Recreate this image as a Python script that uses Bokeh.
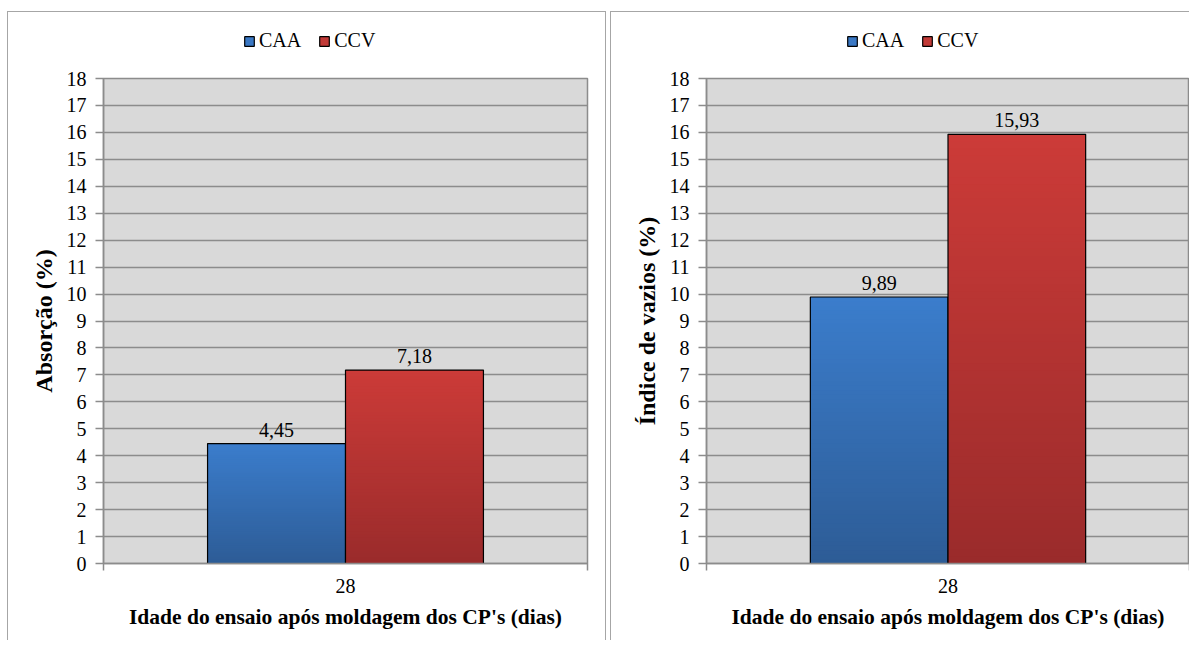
from bokeh.plotting import figure
from bokeh.models import (Range1d, FixedTicker, Legend, LegendItem, ColumnDataSource)
from bokeh.layouts import row, column
from bokeh.embed import file_html
from bokeh.resources import INLINE
from bokeh.core.properties import value

categories = ["28"]
series_names = ["CAA", "CCV"]
absorcao_caa = [4.45]
absorcao_ccv = [7.18]
vazios_caa = [9.89]
vazios_ccv = [15.93]
y_ticks = list(range(0, 19))

top_colors = [(0x3b, 0x7d, 0xcc), (0xcc, 0x3b, 0x38)]
bot_colors = [(0x2d, 0x5c, 0x96), (0x9a, 0x2b, 0x2b)]
solid_colors = ["#3a78c4", "#c23a37"]

FONT = "Liberation Serif"
BAR_W = 0.285
N_SLICES = 60
LEG_H = 50


def hexc(c):
    return "#%02x%02x%02x" % tuple(int(round(v)) for v in c)


def make_legend_fig(width):
    lf = figure(width=width, height=LEG_H, output_backend="svg", toolbar_location=None,
                x_range=Range1d(0, 1), y_range=Range1d(0, 1),
                min_border=0, x_axis_type=None, y_axis_type=None)
    lf.outline_line_color = None
    lf.background_fill_color = "white"
    items = []
    for si, name in enumerate(series_names):
        r = lf.vbar(x=[0.5], bottom=[0.4], top=[0.6], width=0.1, fill_color=solid_colors[si],
                    line_color="black", line_width=1.2, visible=False)
        items.append(LegendItem(label=name, renderers=[r]))
    leg = Legend(items=items, orientation="horizontal", location=(140, 10),
                 glyph_width=12, glyph_height=12, label_text_font=FONT,
                 label_text_font_size="20px", label_text_color="black",
                 label_height=21, spacing=17, label_standoff=4, padding=0, margin=0,
                 background_fill_alpha=0, border_line_color=None, click_policy="none")
    lf.add_layout(leg)
    return lf


def make_panel(vals_a, vals_b, ylabel, width):
    p = figure(width=width, height=628 - LEG_H, output_backend="svg", toolbar_location=None,
               x_range=Range1d(0, len(categories)), y_range=Range1d(0, 18),
               min_border_left=95, min_border_right=width - 95 - 484,
               min_border_top=66 - LEG_H, min_border_bottom=77)
    p.background_fill_color = "#d9d9d9"
    p.border_fill_color = "white"
    p.outline_line_color = "#8c8c8c"
    p.outline_line_width = 1.5

    p.xgrid.grid_line_color = None
    p.ygrid.grid_line_color = "#8c8c8c"
    p.ygrid.grid_line_width = 1.5
    p.ygrid.ticker = FixedTicker(ticks=y_ticks)

    p.yaxis.ticker = FixedTicker(ticks=y_ticks)
    p.yaxis.axis_line_color = "#8c8c8c"
    p.yaxis.axis_line_width = 1.5
    p.yaxis.major_tick_line_color = "#8c8c8c"
    p.yaxis.major_tick_line_width = 1.5
    p.yaxis.major_tick_out = 8
    p.yaxis.major_tick_in = 0
    p.yaxis.minor_tick_line_color = None
    p.yaxis.major_label_text_font = FONT
    p.yaxis.major_label_text_font_size = "20px"
    p.yaxis.major_label_text_color = "black"
    p.yaxis.major_label_standoff = 9
    p.yaxis.axis_label = ylabel
    p.yaxis.axis_label_text_font = FONT
    p.yaxis.axis_label_text_font_size = "24px"
    p.yaxis.axis_label_text_font_style = "bold"
    p.yaxis.axis_label_text_color = "black"
    p.yaxis.axis_label_standoff = 7

    centers = [i + 0.5 for i in range(len(categories))]
    edges = list(range(len(categories) + 1))
    p.xaxis.ticker = FixedTicker(ticks=centers, minor_ticks=edges)
    p.xaxis.major_label_overrides = {c: lab for c, lab in zip(centers, categories)}
    p.xaxis.major_tick_line_color = None
    p.xaxis.major_tick_out = 0
    p.xaxis.major_tick_in = 0
    p.xaxis.minor_tick_line_color = "#8c8c8c"
    p.xaxis.minor_tick_line_width = 1.5
    p.xaxis.minor_tick_out = 7
    p.xaxis.minor_tick_in = 0
    p.xaxis.axis_line_color = "#8c8c8c"
    p.xaxis.axis_line_width = 1.5
    p.xaxis.major_label_text_font = FONT
    p.xaxis.major_label_text_font_size = "20px"
    p.xaxis.major_label_text_color = "black"
    p.xaxis.major_label_standoff = 8
    p.xaxis.axis_label = "Idade do ensaio após moldagem dos CP's (dias)"
    p.xaxis.axis_label_text_font = FONT
    p.xaxis.axis_label_text_font_size = "21.5px"
    p.xaxis.axis_label_text_font_style = "bold"
    p.xaxis.axis_label_text_color = "black"
    p.xaxis.axis_label_standoff = 9

    for si, (vals, offset) in enumerate([(vals_a, -BAR_W / 2), (vals_b, BAR_W / 2)]):
        xs = [c + offset for c in centers]
        sx, st, sc = [], [], []
        for x, v in zip(xs, vals):
            # overlapping slices from tallest (top colour) to shortest (bottom colour)
            for k in range(N_SLICES - 1, -1, -1):
                t = v * (k + 1) / N_SLICES
                g = (k + 0.5) / N_SLICES
                col = [bot_colors[si][j] + (top_colors[si][j] - bot_colors[si][j]) * g for j in range(3)]
                sx.append(x); st.append(t); sc.append(hexc(col))
        p.vbar(x=sx, bottom=0, top=st, width=BAR_W, fill_color=sc, line_color=None)
        p.vbar(x=xs, top=vals, width=BAR_W, fill_color=None, line_color="black", line_width=1.2)
        labels = [("%.2f" % v).replace(".", ",") for v in vals]
        src = ColumnDataSource(dict(x=xs, y=vals, t=labels))
        p.text(x="x", y="y", text="t", source=src, text_align="center", text_baseline="bottom",
               y_offset=-7, text_font=value(FONT), text_font_size="20px", text_color="black")
    return p


W1, W2 = 597, 578
c1 = column(make_legend_fig(W1), make_panel(absorcao_caa, absorcao_ccv, "Absorção (%)", W1),
            spacing=0)
c1.styles = {"border": "1.5px solid #a6a6a6", "border-bottom": "none",
             "margin-top": "11px", "margin-left": "7px"}
c2 = column(make_legend_fig(W2), make_panel(vazios_caa, vazios_ccv, "Índice de vazios (%)", W2),
            spacing=0)
c2.styles = {"border": "1.5px solid #a6a6a6", "border-right": "none", "border-bottom": "none",
             "margin-top": "11px", "margin-left": "4px"}

layout = row(c1, c2)
open("out.html", "w").write(file_html(layout, INLINE))
